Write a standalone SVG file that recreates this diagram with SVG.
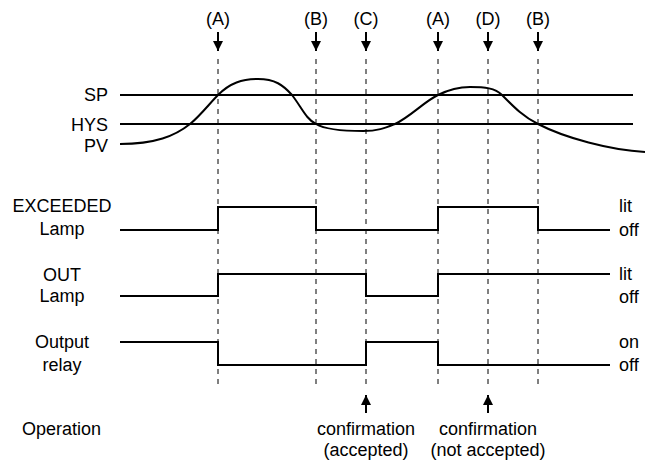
<svg xmlns="http://www.w3.org/2000/svg" width="653" height="465" viewBox="0 0 653 465">
<style>
text{font-family:"Liberation Sans",Arial,sans-serif;font-size:18px;fill:#000}
.r{text-anchor:end}.m{text-anchor:middle}
.sig{fill:none;stroke:#000;stroke-width:2}
.dash{fill:none;stroke:#000;stroke-width:1;stroke-dasharray:5 5}
.arr{fill:none;stroke:#000;stroke-width:2;marker-end:url(#ah)}
</style>
<defs>
<marker id="ah" viewBox="0 0 10 10" refX="10" refY="5" markerWidth="10" markerHeight="11" markerUnits="userSpaceOnUse" orient="auto"><path d="M0,0 L10,5 L0,10 z" fill="#000"/></marker>
</defs>
<rect width="653" height="465" fill="#fff"/>
<g id="connectors">
<path class="dash" d="M218,59 V384 M316,59 V384 M366,59 V384 M438,59 V384 M488,59 V384 M538,59 V384"/>
<path class="arr" d="M218,32 V51"/>
<path class="arr" d="M316,32 V51"/>
<path class="arr" d="M366,32 V51"/>
<path class="arr" d="M438,32 V51"/>
<path class="arr" d="M488,32 V51"/>
<path class="arr" d="M538,32 V51"/>
<path class="arr" d="M366,413 V395"/>
<path class="arr" d="M488,413 V395"/>
</g>
<g id="markers">
<text class="m" x="218" y="25">(A)</text>
<text class="m" x="316" y="25">(B)</text>
<text class="m" x="366" y="25">(C)</text>
<text class="m" x="438" y="25">(A)</text>
<text class="m" x="488" y="25">(D)</text>
<text class="m" x="538" y="25">(B)</text>
</g>
<g id="pv-chart">
<text class="r" x="108" y="101">SP</text>
<text class="r" x="108" y="131">HYS</text>
<text class="r" x="108" y="152">PV</text>
<path class="sig" d="M120,95 H633 M120,124 H633"/>
<path class="sig" d="M120,144 C155,144 175,136 190,124 C200,116 210,103 218,95 C230,83 242,79 258,79 C275,79 283,85 292,95 C302,108 306,119 316,124 C326,130 345,131 363,131 C378,131 385,128 395,124 C410,117 425,101 438,95 C448,90 458,87 470,87 C485,87 495,88 502,95 C512,105 522,116 538,124 C565,138 610,150 645,152"/>
</g>
<g id="exceeded-lamp">
<text class="m" x="62" y="212">EXCEEDED</text>
<text class="m" x="62" y="235">Lamp</text>
<path class="sig" d="M120,230 H218 V207 H316 V230 H438 V207 H538 V230 H610"/>
<text x="619" y="212">lit</text>
<text x="619" y="236">off</text>
</g>
<g id="out-lamp">
<text class="m" x="62" y="281">OUT</text>
<text class="m" x="62" y="302">Lamp</text>
<path class="sig" d="M120,296 H218 V274 H366 V296 H438 V274 H610"/>
<text x="619" y="280">lit</text>
<text x="619" y="303">off</text>
</g>
<g id="output-relay">
<text class="m" x="62" y="348">Output</text>
<text class="m" x="62" y="371">relay</text>
<path class="sig" d="M120,342 H218 V365 H366 V342 H438 V365 H610"/>
<text x="619" y="348">on</text>
<text x="619" y="371">off</text>
</g>
<g id="operation">
<text x="22" y="435">Operation</text>
<text class="m" x="366" y="435">confirmation</text>
<text class="m" x="366" y="456">(accepted)</text>
<text class="m" x="488" y="435">confirmation</text>
<text class="m" x="488" y="456">(not accepted)</text>
</g>
</svg>
